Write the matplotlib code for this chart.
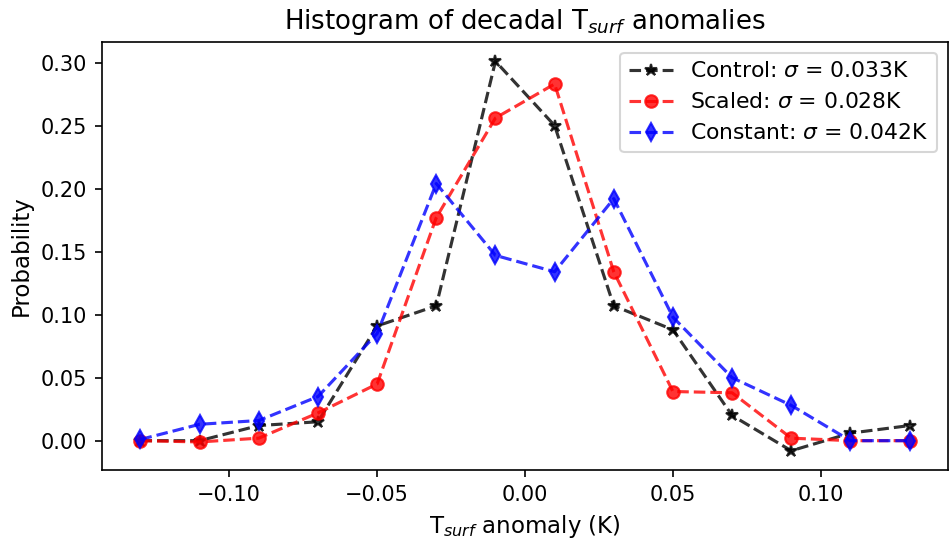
import numpy as np
import matplotlib
matplotlib.use("Agg")
import matplotlib.pyplot as plt

# bin centres of the anomaly histogram (K)
bins = [-0.13, -0.11, -0.09, -0.07, -0.05, -0.03, -0.01,
        0.01, 0.03, 0.05, 0.07, 0.09, 0.11, 0.13]

# probabilities
control = [0.0, 0.0, 0.012, 0.015, 0.091, 0.107, 0.301,
           0.250, 0.107, 0.088, 0.020, -0.008, 0.006, 0.012]
scaled = [0.0, -0.001, 0.002, 0.022, 0.045, 0.177, 0.256,
          0.283, 0.134, 0.039, 0.038, 0.002, 0.0, 0.0]
constant = [0.001, 0.013, 0.016, 0.035, 0.085, 0.204, 0.147,
            0.134, 0.192, 0.098, 0.050, 0.028, 0.0, 0.0]

labels = [r"Control: $\sigma$ = 0.033K",
          r"Scaled: $\sigma$ = 0.028K",
          r"Constant: $\sigma$ = 0.042K"]

# original looks like a 150 dpi figure
fig, ax = plt.subplots(figsize=(949 / 150, 543 / 150), dpi=150)
fig.subplots_adjust(left=0.1075, right=0.999, top=0.923, bottom=0.134)

ax.plot(bins, control, 'k--', marker='*', markersize=6, lw=1.5, alpha=0.8, label=labels[0])
ax.plot(bins, scaled, 'r--', marker='o', markersize=6, lw=1.5, alpha=0.8, label=labels[1])
ax.plot(bins, constant, 'b--', marker='d', markersize=6, lw=1.5, alpha=0.8, label=labels[2])

ax.set_title(r"Histogram of decadal T$_{surf}$ anomalies", fontsize=12.5)
ax.set_xlabel(r"T$_{surf}$ anomaly (K)", fontsize=11)
ax.set_ylabel("Probability", fontsize=11)
ax.tick_params(labelsize=10)
ax.legend(loc='upper right', fontsize=10.5)

fig.savefig("out.png", dpi=150)
